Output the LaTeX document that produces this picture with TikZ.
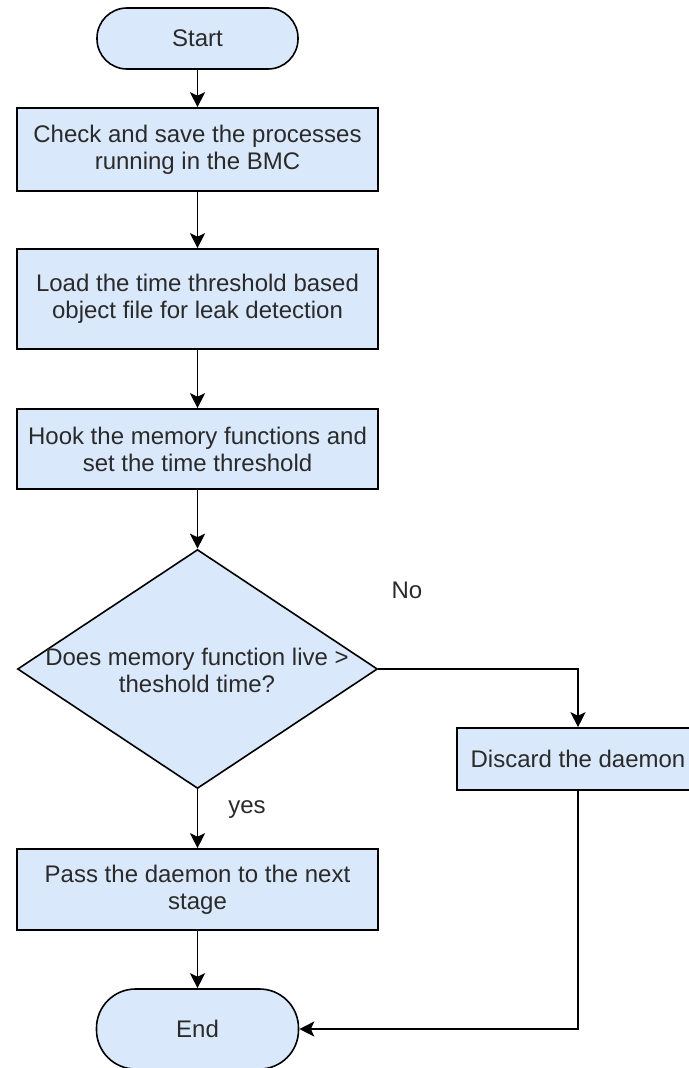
\documentclass[tikz,border=0pt]{standalone}
\usepackage{fontspec}
\setmainfont{Liberation Sans}
\usetikzlibrary{shapes.geometric,arrows.meta}
\definecolor{boxfill}{HTML}{DAE8FC}
\definecolor{txt}{HTML}{2A2A2A}
\begin{document}
\begin{tikzpicture}[x=1pt,y=-1pt,
  every node/.style={font=\fontsize{24}{27}\selectfont, text=txt},
  proc/.style={draw=black, line width=1.6pt, fill=boxfill, rectangle, inner sep=0pt, align=center, minimum width=361pt},
  term/.style={draw=black, line width=1.6pt, fill=boxfill, rectangle, inner sep=0pt, align=center},
  conn/.style={draw=black, line width=1.6pt, -{Stealth[length=15pt,width=15pt,inset=3.5pt]}},
  lbl/.style={inner sep=0pt}
]
\useasboundingbox (0,0) rectangle (688,1068);
\node[term, minimum width=201pt, minimum height=61pt, rounded corners=30pt] (start) at (197.5,38.5) {Start};
\node[proc, minimum height=83pt] (b1) at (197.5,149.5) {Check and save the processes\\running in the BMC};
\node[proc, minimum height=100pt] (b2) at (197.5,299) {Load the time threshold based\\object file for leak detection};
\node[proc, minimum height=80pt] (b3) at (197.5,449) {Hook the memory functions and\\set the time threshold};
\node[diamond, draw=black, line width=1.6pt, fill=boxfill, inner sep=0pt, minimum width=360pt, minimum height=239pt] (dec) at (197.5,669) {};
\node[lbl, align=center] (dectext) at (197,670) {Does memory function live >\\theshold time?};
\node[term, minimum width=242pt, minimum height=62pt] (discard) at (578,759) {Discard the daemon};
\node[proc, minimum height=81pt] (pass) at (197.5,889.5) {Pass the daemon to the next\\stage};
\node[term, minimum width=202pt, minimum height=80pt, rounded corners=39pt] (end) at (197.5,1029) {End};
\node[lbl] (no) at (407,590) {No};
\node[lbl] (yes) at (247,810) {yes};
\draw[conn] (start.south) -- (b1.north);
\draw[conn] (b1.south) -- (b2.north);
\draw[conn] (b2.south) -- (b3.north);
\draw[conn] (b3.south) -- (dec.north);
\draw[conn] (dec.south) -- (pass.north);
\draw[conn] (pass.south) -- (end.north);
\draw[conn] (dec.east) -| (discard.north);
\draw[conn] (discard.south) |- (end.east);
\end{tikzpicture}
\end{document}
